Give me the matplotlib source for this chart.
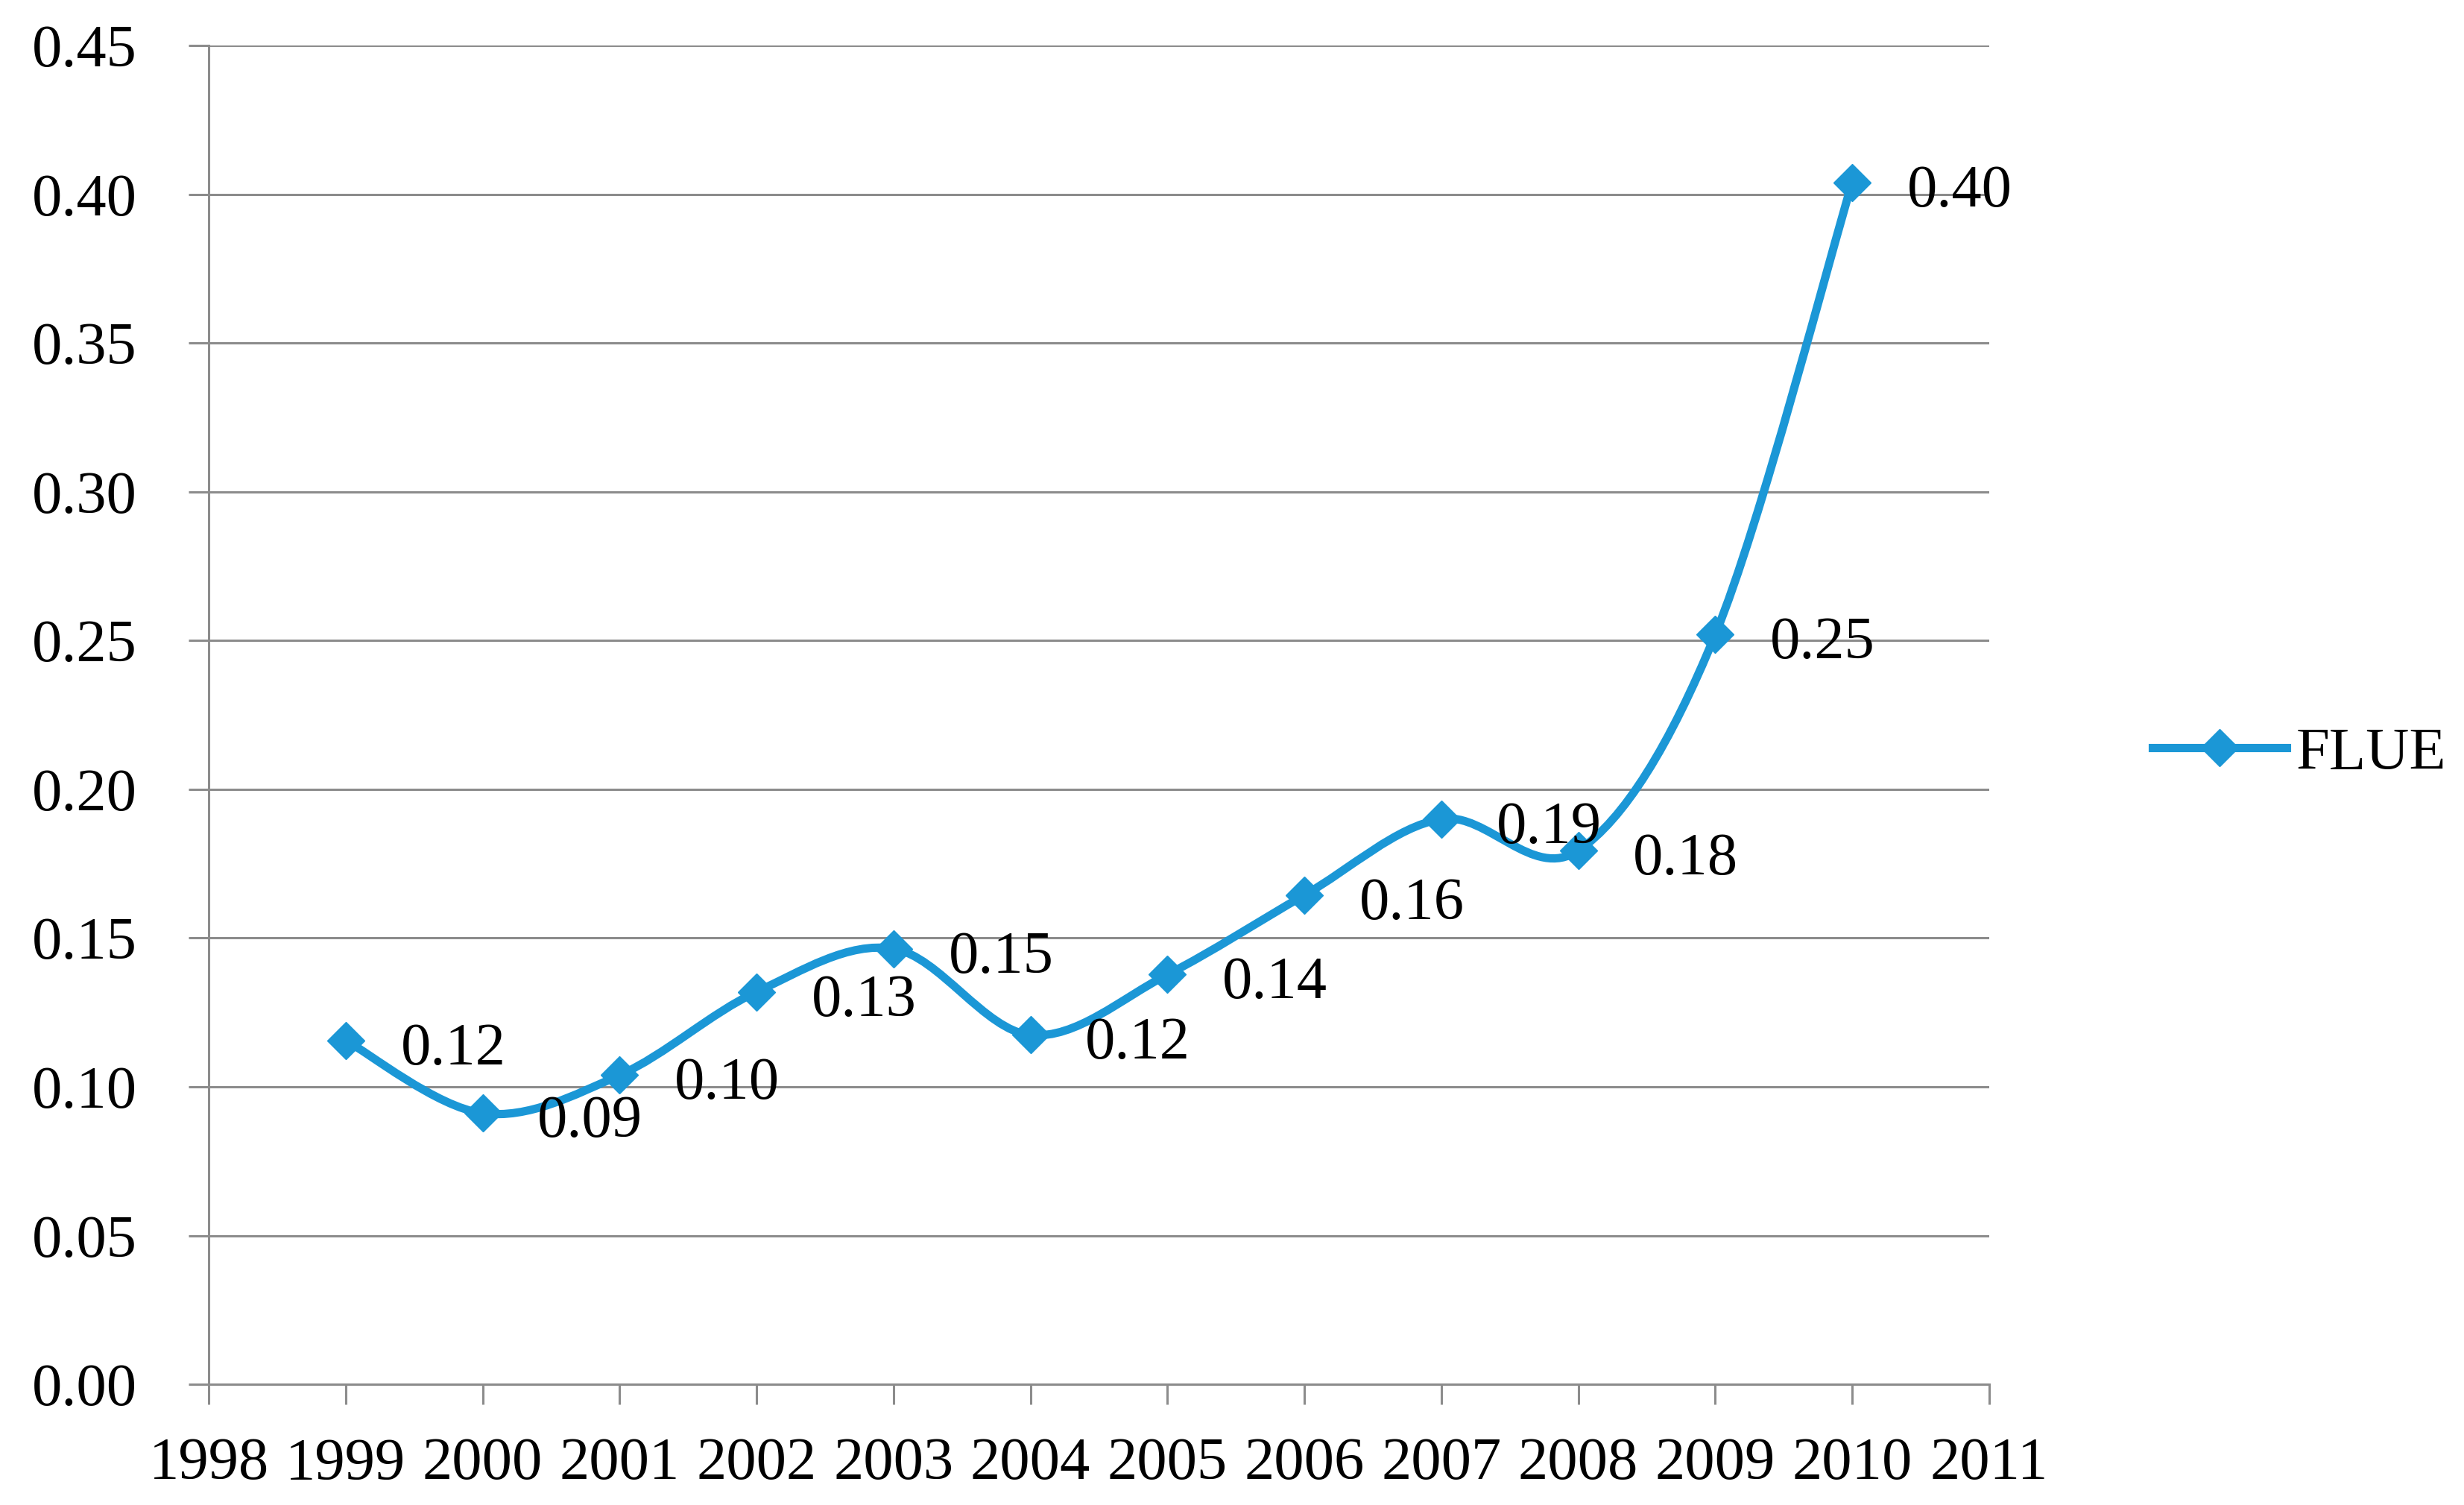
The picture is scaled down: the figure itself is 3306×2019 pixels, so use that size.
import matplotlib
matplotlib.use("Agg")
import matplotlib.pyplot as plt
from matplotlib.path import Path
from matplotlib.patches import PathPatch
import numpy as np

# values
years = [1999, 2000, 2001, 2002, 2003, 2004, 2005, 2006, 2007, 2008, 2009, 2010]
flue = [0.1156, 0.0911, 0.1039, 0.1319, 0.1464, 0.1174, 0.1377, 0.1644, 0.1900, 0.1794, 0.2520, 0.4040]
series_name = "FLUE"
x_ticks = list(range(1998, 2012))
y_ticks = [0.00, 0.05, 0.10, 0.15, 0.20, 0.25, 0.30, 0.35, 0.40, 0.45]

BLUE = "#1B97D6"
GRAY = "#8C8C8C"
FS = 58

plt.rcParams["font.family"] = ["Liberation Serif", "DejaVu Serif"]


def smooth_path(xs, ys):
    # Excel style smoothed line: cubic Bezier segments with Catmull-Rom handles
    pts = np.column_stack([xs, ys]).astype(float)
    n = len(pts)
    verts = [pts[0]]
    codes = [Path.MOVETO]
    for i in range(n - 1):
        p0 = pts[max(i - 1, 0)]
        p1 = pts[i]
        p2 = pts[i + 1]
        p3 = pts[min(i + 2, n - 1)]
        c1 = p1 + (p2 - p0) / 6.0
        c2 = p2 - (p3 - p1) / 6.0
        verts += [c1, c2, p2]
        codes += [Path.CURVE4] * 3
    return Path(np.array(verts), codes)


fig = plt.figure(figsize=(33.06, 20.19), dpi=100)
ax = fig.add_axes([0.0847, 0.0802, 0.8073 - 0.0847, 0.9698 - 0.0802])

ax.add_patch(PathPatch(smooth_path(years, flue), facecolor="none",
                       edgecolor=BLUE, lw=8, capstyle="round", zorder=3))
ax.plot(years, flue, linestyle="none", marker="D", markersize=25,
        color=BLUE, zorder=4)

for x, v in zip(years, flue):
    ax.annotate(f"{v:.2f}", (x, v), xytext=(53, -23), textcoords="offset points",
                ha="left", va="baseline", fontsize=FS, color="black", zorder=5)

ax.set_xlim(1998, 2011)
ax.set_ylim(0, 0.45)
ax.set_xticks(x_ticks)
ax.set_xticklabels([str(t) for t in x_ticks])
ax.set_yticks(y_ticks)
ax.set_yticklabels([f"{t:.2f}" for t in y_ticks])

ax.grid(axis="y", color=GRAY, lw=2.2)
ax.set_axisbelow(True)
for side in ("top", "right"):
    ax.spines[side].set_visible(False)
for side in ("left", "bottom"):
    ax.spines[side].set_color(GRAY)
    ax.spines[side].set_linewidth(2.2)

ax.tick_params(axis="both", direction="out", length=19.4, width=2.2,
               color=GRAY, labelsize=FS, labelcolor="black")
ax.tick_params(axis="y", pad=50)
ax.tick_params(axis="x", pad=32)

legend_line = plt.Line2D([], [], color=BLUE, lw=8, marker="D", markersize=25)
fig.legend([legend_line], [series_name], loc="center left",
           bbox_to_anchor=(2888 / 3306, 0.4988), frameon=False, fontsize=FS,
           handlelength=2.23, handletextpad=0.16, borderpad=0, borderaxespad=0)

fig.savefig("out.png", dpi=100, facecolor="white")
